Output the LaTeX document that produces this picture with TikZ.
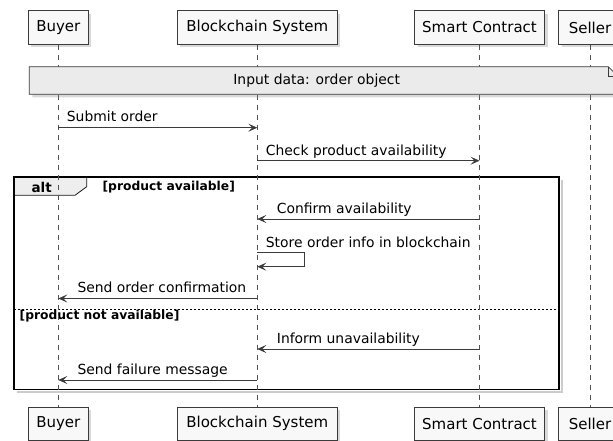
\documentclass[tikz,border=0pt]{standalone}
\usepackage{fontspec}
\setmainfont{DejaVu Sans}
\usetikzlibrary{arrows.meta,shadows}
\definecolor{boxfill}{HTML}{F8F8F8}
\definecolor{notefill}{HTML}{EBEBEB}
\definecolor{tabfill}{HTML}{EEEEEE}
\definecolor{ink}{HTML}{181818}

\begin{document}
\begin{tikzpicture}[x=1pt,y=-1pt,
	party/.style={draw=ink!85,fill=boxfill,line width=0.8pt,minimum height=33.6pt,inner sep=0pt,
		font=\fontsize{15}{18}\selectfont,drop shadow={shadow xshift=3pt,shadow yshift=-3pt,opacity=0.3}},
	life/.style={draw=ink!75,line width=0.7pt,dash pattern=on 5pt off 5pt},
	msg/.style={draw=ink!85,line width=0.8pt,-{Stealth[length=9pt,width=8pt,inset=4pt]}},
	lbl/.style={anchor=base west,inner sep=0pt,font=\fontsize{13.9}{16}\selectfont},
	guard/.style={anchor=west,inner sep=0pt,font=\bfseries\fontsize{12.3}{14}\selectfont}]
	\def\xbuy{58.3}
	\def\xchain{257.3}
	\def\xsmart{479.5}
	\def\xsell{590}
	\useasboundingbox (0,0) rectangle (613,441);
	\clip (0,0) rectangle (613,441);
	% participant boxes, top and bottom
	\def\party#1#2#3#4{
		\node[party,minimum width=#3] (#1) at (#2,27.5) {#4};
		\node[party,minimum width=#3] (#12) at (#2,423.8) {#4};
	}
	\party{buy}{\xbuy}{60pt}{Buyer}
	\party{chain}{\xchain}{160pt}{Blockchain System}
	\party{smart}{\xsmart}{130pt}{Smart Contract}
	\party{sell}{\xsell}{63pt}{Seller}
	% alt frame
	\draw[black!20,line width=2pt] (562,180) -- (562,392.3) -- (17,392.3);
	\draw[fill=tabfill,draw=ink,line width=0.8pt] (14,177) -- (86.7,177) -- (86.7,186.7) -- (75,195.3) -- (14,195.3) -- cycle;
	\draw[black,line width=1.6pt] (14,177) rectangle (559,389.3);
	\draw[black,line width=0.7pt,dash pattern=on 2pt off 2pt] (14,309.3) -- (559,309.3);
	\node[font=\bfseries\fontsize{13.5}{16}\selectfont,inner sep=0pt] (alt) at (41.7,187) {alt};
	\node[guard] (g1) at (102.4,187) {[product available]};
	\node[guard] (g2) at (19.5,316.3) {[product not available]};
	% lifelines
	\draw[life] (buy) -- (buy2);
	\draw[life] (chain) -- (chain2);
	\draw[life] (smart) -- (smart2);
	\draw[life] (sell) -- (sell2);
	% note
	\draw[fill=notefill,draw=ink!85,line width=0.8pt,drop shadow={shadow xshift=3pt,shadow yshift=-3pt,opacity=0.3}]
		(29.3,66.7) -- (608.3,66.7) -- (618.3,76.7) -- (618.3,94.3) -- (29.3,94.3) -- cycle;
	\draw[draw=ink!85,line width=0.8pt] (608.3,66.7) -- (608.3,76.7) -- (618.3,76.7);
	\node[font=\fontsize{13.9}{16}\selectfont,inner sep=0pt] (note) at (316.7,80.5) {Input data: order object};
	% messages: name, from, to, y, label x, text
	\def\msg#1#2#3#4#5#6{
		\coordinate (#1a) at (#2,#4);
		\coordinate (#1b) at (#3,#4);
		\draw[msg] (#1a) -- (#1b);
		\node[lbl] (#1t) at (#5,#4-5.7) {#6};
	}
	\msg{m1}{\xbuy}{\xchain}{127.7}{66.7}{Submit order}
	\msg{m2}{\xchain}{\xsmart}{160.7}{265.7}{Check product availability}
	\msg{m3}{\xsmart}{\xchain}{219}{276.7}{Confirm availability}
	\coordinate (m4a) at (\xchain,252.7);
	\coordinate (m4b) at (\xchain,266.7);
	\draw[msg] (m4a) -- (304.7,252.7) -- (304.7,266.7) -- (m4b);
	\node[lbl] (m4t) at (265.7,247) {Store order info in blockchain};
	\msg{m5}{\xchain}{\xbuy}{298.5}{77.3}{Send order confirmation}
	\msg{m6}{\xsmart}{\xchain}{349}{276.7}{Inform unavailability}
	\msg{m7}{\xchain}{\xbuy}{380}{77.3}{Send failure message}
\end{tikzpicture}
\end{document}
